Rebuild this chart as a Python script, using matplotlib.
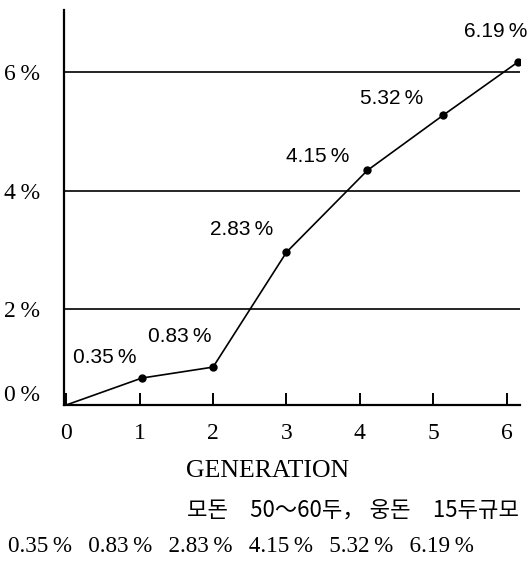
import matplotlib
matplotlib.use("Agg")
import matplotlib.pyplot as plt

# data
gen_x = [0, 1.03, 2.0, 3.0, 4.1, 5.13, 6.15]
rate_y = [0.38, 0.835, 1.02, 2.96, 4.34, 5.27, 6.17]
point_labels = ["0.35\u2009%", "0.83\u2009%", "2.83\u2009%", "4.15\u2009%", "5.32\u2009%", "6.19\u2009%"]
x_ticks = [0, 1, 2, 3, 4, 5, 6]
y_grid = [2, 4, 6]
y_tick_labels = ["0\u2009%", "2\u2009%", "4\u2009%", "6\u2009%"]
x_label = "GENERATION"
note = "모돈\u300050～60두，\u0020웅돈\u300015두규모"
bottom_items = ["0.35", "0.83", "2.83", "4.15", "5.32", "6.19"]

serif = ["Liberation Serif", "DejaVu Serif"]
sans = ["Liberation Sans", "DejaVu Sans"]
cjk = ["Noto Sans CJK KR", "DejaVu Sans"]

fig = plt.figure(figsize=(5.31, 5.62), dpi=100)
ax = fig.add_axes([64/531, 1-405/562, (520-64)/531, (405-10)/562])
ax.set_xlim(-0.03, 6.18)
ax.set_ylim(0.38, 7.05)

for g in y_grid:
    ax.axhline(g, color="black", lw=1.2, zorder=1)

ax.plot(gen_x, rate_y, color="black", lw=1.2, zorder=3)
ax.plot(gen_x[1:], rate_y[1:], "o", color="black", ms=5, zorder=4)

offsets = [(-27, 15), (-24, 22), (-32, 16), (-36, 10), (-37, 12), (-16, 22)]
for x, y, t, off in zip(gen_x[1:], rate_y[1:], point_labels, offsets):
    ax.annotate(t, (x, y), xytext=off, textcoords="offset points",
                ha="center", va="center", fontsize=15, family=sans,
                annotation_clip=False)

for s in ["top", "right"]:
    ax.spines[s].set_visible(False)
for s in ["left", "bottom"]:
    ax.spines[s].set_linewidth(1.6)

ax.set_xticks(x_ticks)
ax.set_xticklabels([str(v) for v in x_ticks], family=serif, fontsize=17)
ax.tick_params(axis="x", direction="in", length=9, width=1.4, pad=13)

ax.set_yticks([0.58] + y_grid)
ax.set_yticklabels(y_tick_labels, family=serif, fontsize=17)
ax.tick_params(axis="y", length=0, pad=17)

fig.text(268/531, 1-471/562, x_label, ha="center", va="center",
         family=serif, fontsize=18.5)
fig.text(519/531, 1-510/562, note, ha="right", va="center",
         family=cjk, fontsize=16)
fig.text(8/531, 1-547/562, "\u2002\u2009".join(b + "\u2009%" for b in bottom_items),
         ha="left", va="center", family=serif, fontsize=16.7)

fig.savefig("out.png", dpi=100)
